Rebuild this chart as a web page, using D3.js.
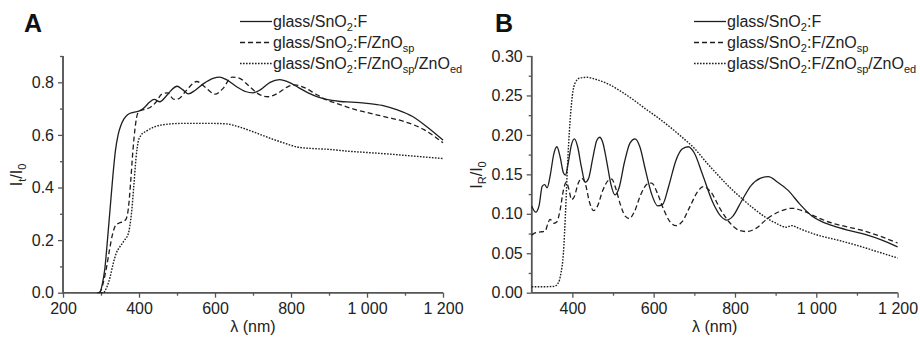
<!DOCTYPE html>
<html>
<head>
<meta charset="utf-8">
<script src="https://cdn.jsdelivr.net/npm/d3@7"></script>
<style>
  body { margin: 0; background: #fff; }
  svg { display: block; font-family: "Liberation Sans", Arial, sans-serif; }
</style>
</head>
<body>
<div id="chart"></div>
<script>
// ---- data: [wavelength nm, intensity ratio] ----
const transFto = [[290,0],[297,0],[303,0.03],[310,0.09],[317,0.2],[324,0.32],[331,0.44],[338,0.54],[345,0.6],[352,0.635],[360,0.66],[370,0.677],[385,0.686],[400,0.69],[415,0.705],[428,0.725],[440,0.735],[455,0.726],[470,0.745],[485,0.77],[500,0.785],[515,0.772],[530,0.756],[548,0.77],[570,0.795],[595,0.815],[612,0.82],[630,0.81],[655,0.785],[680,0.765],[700,0.76],[720,0.772],[745,0.8],[770,0.81],[795,0.8],[820,0.78],[845,0.76],[870,0.745],[900,0.733],[930,0.727],[960,0.725],[1000,0.72],[1040,0.712],[1080,0.695],[1120,0.67],[1160,0.628],[1200,0.58]]
const transSp = [[295,0],[300,0.01],[308,0.05],[315,0.1],[322,0.16],[330,0.22],[338,0.255],[348,0.265],[358,0.27],[366,0.28],[372,0.32],[378,0.42],[384,0.54],[390,0.63],[396,0.68],[402,0.692],[415,0.697],[430,0.705],[445,0.725],[460,0.755],[475,0.76],[492,0.735],[505,0.738],[525,0.77],[552,0.803],[575,0.78],[600,0.755],[620,0.775],[645,0.82],[665,0.815],[690,0.785],[715,0.755],[740,0.745],[765,0.758],[790,0.782],[810,0.79],[835,0.78],[860,0.76],[890,0.735],[920,0.72],[960,0.7],[1000,0.685],[1050,0.668],[1100,0.65],[1150,0.62],[1200,0.57]]
const transEd = [[300,0],[306,0],[315,0.02],[324,0.06],[332,0.11],[340,0.15],[350,0.175],[362,0.2],[372,0.225],[380,0.3],[386,0.4],[392,0.51],[398,0.575],[405,0.598],[420,0.615],[440,0.63],[470,0.64],[520,0.644],[580,0.644],[630,0.642],[660,0.632],[700,0.612],[740,0.59],[780,0.57],[820,0.553],[860,0.548],[900,0.545],[950,0.538],[1000,0.533],[1050,0.528],[1100,0.522],[1150,0.516],[1200,0.51]]

const reflFto = [[300,0.11],[310,0.102],[318,0.11],[326,0.135],[332,0.137],[338,0.133],[346,0.15],[354,0.175],[362,0.185],[370,0.172],[378,0.152],[383,0.149],[390,0.165],[398,0.188],[405,0.195],[413,0.185],[422,0.16],[432,0.14],[440,0.145],[450,0.17],[460,0.193],[467,0.197],[475,0.19],[485,0.165],[495,0.137],[505,0.124],[515,0.133],[528,0.165],[542,0.19],[554,0.195],[566,0.185],[580,0.155],[595,0.125],[610,0.11],[622,0.112],[637,0.135],[655,0.168],[670,0.182],[685,0.185],[700,0.177],[720,0.15],[745,0.115],[765,0.097],[780,0.092],[795,0.097],[815,0.115],[840,0.136],[862,0.145],[882,0.147],[905,0.14],[930,0.13],[960,0.112],[990,0.097],[1010,0.091],[1040,0.085],[1080,0.079],[1120,0.074],[1160,0.067],[1200,0.058]]
const reflSp = [[300,0.073],[310,0.076],[322,0.077],[333,0.078],[340,0.088],[345,0.093],[355,0.088],[362,0.09],[370,0.105],[378,0.13],[385,0.14],[392,0.13],[398,0.118],[405,0.122],[414,0.138],[423,0.145],[432,0.138],[442,0.115],[452,0.104],[462,0.11],[475,0.13],[490,0.143],[497,0.144],[505,0.135],[518,0.112],[530,0.097],[540,0.094],[552,0.102],[568,0.124],[585,0.138],[595,0.139],[610,0.125],[625,0.105],[640,0.09],[655,0.085],[670,0.09],[690,0.11],[708,0.128],[722,0.1345],[740,0.128],[765,0.105],[790,0.087],[810,0.079],[828,0.0775],[850,0.081],[880,0.094],[910,0.103],[940,0.107],[970,0.103],[1000,0.096],[1040,0.088],[1080,0.083],[1120,0.078],[1160,0.071],[1200,0.063]]
const reflEd = [[300,0.0076],[330,0.0076],[355,0.008],[365,0.012],[372,0.025],[378,0.05],[383,0.1],[388,0.16],[394,0.215],[400,0.25],[407,0.266],[418,0.272],[435,0.273],[460,0.27],[490,0.264],[520,0.255],[550,0.2445],[580,0.233],[610,0.222],[640,0.21],[670,0.197],[700,0.183],[730,0.165],[760,0.148],[790,0.132],[820,0.118],[850,0.105],[880,0.094],[905,0.087],[925,0.083],[940,0.085],[955,0.082],[980,0.077],[1010,0.072],[1050,0.067],[1100,0.06],[1150,0.052],[1200,0.044]]

const xTicksA = [200, 400, 600, 800, 1000, 1200]
const xTicksB = [400, 600, 800, 1000, 1200]
const yTicksA = [0, 0.2, 0.4, 0.6, 0.8]
const yTicksB = [0, 0.05, 0.1, 0.15, 0.2, 0.25, 0.3]

// legend labels: [main, sub] pieces
const legendLabels = [
  [['glass/SnO', ''], ['2', 'sub'], [':F', '']],
  [['glass/SnO', ''], ['2', 'sub'], [':F/ZnO', ''], ['sp', 'sub']],
  [['glass/SnO', ''], ['2', 'sub'], [':F/ZnO', ''], ['sp', 'sub'], ['/ZnO', ''], ['ed', 'sub']]
]
const dashes = [null, '5,3', '1.6,1.4']

const W = 920, H = 337
const svg = d3.select('#chart').append('svg').attr('width', W).attr('height', H)

const spaced = d3.formatLocale({ decimal: '.', thousands: ' ', grouping: [3], currency: ['', ''] }).format(',')
const axisColor = '#555'
const lineColor = '#1e1e1e'

function panel(opts) {
  const x = d3.scaleLinear().domain(opts.xDomain).range([opts.left, opts.right])
  const y = d3.scaleLinear().domain(opts.yDomain).range([292.7, 56])
  const g = svg.append('g')

  // x axis, major + minor
  const xAxis = g.append('g').attr('transform', 'translate(0,292.7)')
    .call(d3.axisBottom(x).tickValues(opts.xTicks).tickFormat(spaced).tickSize(5).tickPadding(5))
  xAxis.append('g').call(d3.axisBottom(x).tickValues(opts.xMinor).tickFormat('').tickSize(3))
  const yAxis = g.append('g').attr('transform', `translate(${opts.left},0)`)
    .call(d3.axisLeft(y).tickValues(opts.yTicks).tickFormat(d3.format(opts.yFmt)).tickSize(5).tickPadding(4))
  yAxis.append('g').call(d3.axisLeft(y).tickValues(opts.yMinor).tickFormat('').tickSize(3))

  g.selectAll('.domain').attr('stroke', axisColor).attr('stroke-width', 1.5)
  g.selectAll('.tick line').attr('stroke', axisColor).attr('stroke-width', 1.3)
  g.selectAll('.tick text').attr('font-size', 16).attr('fill', '#222')
    .attr('font-family', '"Liberation Sans", Arial, sans-serif')
  xAxis.selectAll('.domain').attr('d', `M${opts.left},0H${opts.right}`)
  yAxis.selectAll('.domain').attr('d', `M0,292.7V56`)

  const line = d3.line().x(d => x(d[0])).y(d => y(d[1])).curve(d3.curveMonotoneX)
  opts.series.forEach((s, i) => {
    g.append('path').datum(s)
      .attr('d', line)
      .attr('fill', 'none')
      .attr('stroke', lineColor)
      .attr('stroke-width', i === 2 ? 1.4 : 1.3)
      .attr('stroke-dasharray', dashes[i])
  })

  // axis titles
  g.append('text')
    .attr('x', (opts.left + opts.right) / 2).attr('y', 332)
    .attr('text-anchor', 'middle').attr('font-size', 16).attr('fill', '#222')
    .text('λ (nm)')
  const yt = g.append('text')
    .attr('transform', `translate(${opts.yTitleX},175) rotate(-90)`)
    .attr('text-anchor', 'middle').attr('font-size', 16).attr('fill', '#222')
  yt.append('tspan').text('I')
  yt.append('tspan').text(opts.ySub).attr('font-size', 11).attr('dy', 4)
  yt.append('tspan').text('/I').attr('dy', -4)
  yt.append('tspan').text('0').attr('font-size', 11).attr('dy', 4)

  // panel letter
  g.append('text').attr('x', opts.letterX).attr('y', 32)
    .attr('font-size', 25).attr('font-weight', 'bold').attr('fill', '#111')
    .text(opts.letter)

  // legend
  const leg = g.append('g').attr('transform', `translate(${opts.legX},0)`)
  legendLabels.forEach((parts, i) => {
    const yy = 21.5 + i * 21
    leg.append('line').attr('x1', 0).attr('x2', 32).attr('y1', yy).attr('y2', yy)
      .attr('stroke', lineColor).attr('stroke-width', 1.3)
      .attr('stroke-dasharray', dashes[i])
    const t = leg.append('text').attr('x', 33).attr('y', yy + 5.5)
      .attr('font-size', 16).attr('fill', '#222')
    let down = false
    parts.forEach(p => {
      const ts = t.append('tspan').text(p[0])
      if (p[1] === 'sub' && !down) { ts.attr('font-size', 11).attr('dy', 4); down = true }
      else if (p[1] === 'sub') { ts.attr('font-size', 11) }
      else if (down) { ts.attr('dy', -4); down = false }
    })
  })
}

panel({
  xDomain: [200, 1200], left: 63, right: 443,
  yDomain: [0, 0.9], xTicks: xTicksA, xMinor: [300, 500, 700, 900, 1100],
  yTicks: yTicksA, yMinor: [0.1, 0.3, 0.5, 0.7, 0.9], yFmt: '.1f',
  series: [transFto, transSp, transEd],
  yTitleX: 22, ySub: 't', letter: 'A', letterX: 24, legX: 240
})

panel({
  xDomain: [300, 1200], left: 531.7, right: 897.6,
  yDomain: [0, 0.3], xTicks: xTicksB, xMinor: [500, 700, 900, 1100],
  yTicks: yTicksB, yMinor: [0.025, 0.075, 0.125, 0.175, 0.225, 0.275], yFmt: '.2f',
  series: [reflFto, reflSp, reflEd],
  yTitleX: 482, ySub: 'R', letter: 'B', letterX: 495, legX: 694
})
</script>
</body>
</html>
